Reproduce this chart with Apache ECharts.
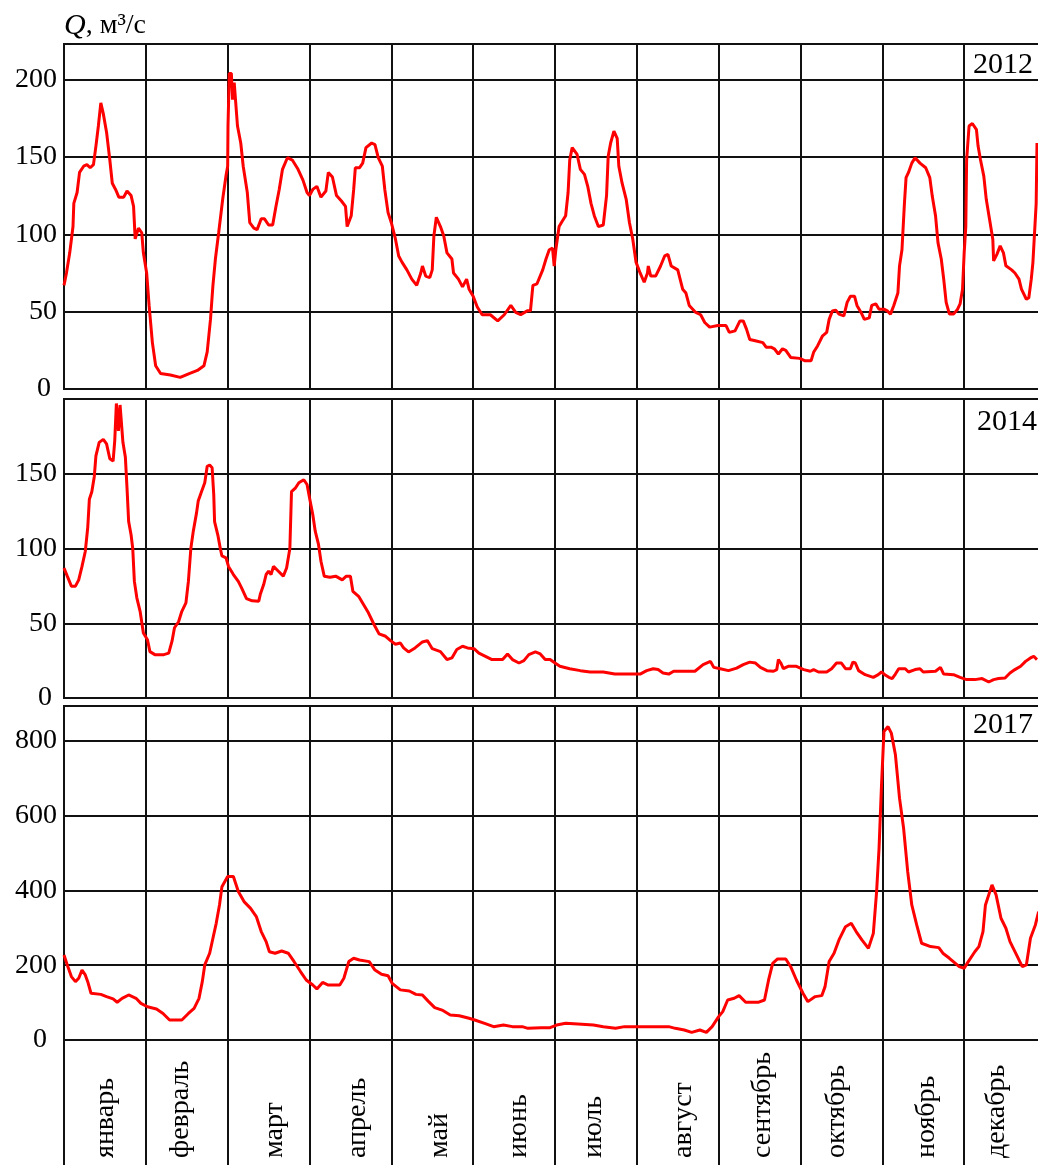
<!DOCTYPE html>
<html>
<head>
<meta charset="utf-8">
<script src="https://cdn.jsdelivr.net/npm/echarts@6/dist/echarts.min.js"></script>
<style>
  html, body { margin: 0; padding: 0; background: #fff; }
  #chart { width: 1038px; height: 1165px; }
</style>
</head>
<body>
<div id="chart"></div>
<script>
// Daily discharge Q (m³/s) over the year; x is the position in months (0 = 1 Jan, 12 = 31 Dec)
const months = ['январь', 'февраль', 'март', 'апрель', 'май', 'июнь',
                'июль', 'август', 'сентябрь', 'октябрь', 'ноябрь', 'декабрь'];
const years = ['2012', '2014', '2017'];

const q2012 = [[0,67],[0.03,75],[0.07,88],[0.11,105],[0.12,120],[0.16,127],[0.19,140],[0.24,144],[0.28,145],[0.32,143],[0.36,145],[0.39,157],[0.42,170],[0.45,185],[0.48,178],[0.52,166],[0.56,148],[0.59,133],[0.63,129],[0.67,124],[0.73,124],[0.77,128],[0.82,125],[0.85,118],[0.87,97],[0.91,104],[0.95,101],[0.97,88],[1.01,75],[1.04,54],[1.08,30],[1.12,15],[1.18,10],[1.30,9],[1.42,7.5],[1.53,10],[1.63,12],[1.71,15],[1.75,24],[1.79,45],[1.82,67],[1.85,84],[1.89,101],[1.94,123],[1.98,138],[2.0,144],[2.004,170],[2.02,204],[2.045,204],[2.06,187],[2.08,198],[2.12,170],[2.16,159],[2.19,144],[2.24,127],[2.27,107.5],[2.32,104],[2.36,103],[2.41,110],[2.45,110],[2.50,106],[2.55,106],[2.59,118],[2.63,129],[2.67,142],[2.73,149.5],[2.79,148],[2.86,142],[2.92,135],[2.97,127],[3.0,125],[3.04,129],[3.09,131],[3.14,124],[3.20,128],[3.23,140],[3.28,137],[3.33,125],[3.39,121.5],[3.44,118],[3.46,105],[3.51,112],[3.54,129],[3.56,143],[3.61,143],[3.65,146],[3.69,156],[3.76,159],[3.80,158],[3.84,149.5],[3.89,144],[3.92,129],[3.96,114],[4.0,107.5],[4.05,97],[4.09,86],[4.13,82],[4.19,77],[4.25,71],[4.31,67],[4.36,75],[4.38,79.5],[4.42,73],[4.47,72],[4.50,77],[4.52,99],[4.55,111],[4.60,105],[4.64,99],[4.68,88],[4.74,84],[4.76,75],[4.82,71],[4.87,66],[4.92,71],[4.95,64.5],[5.0,60],[5.05,53],[5.11,48],[5.21,48],[5.30,44],[5.38,48],[5.46,54],[5.52,49.5],[5.58,48],[5.66,50.5],[5.70,50.5],[5.73,67],[5.78,68],[5.85,77],[5.89,84],[5.93,90],[5.97,91],[5.99,79.5],[6.01,90],[6.05,105],[6.09,108.6],[6.13,112],[6.16,127],[6.18,148],[6.21,156],[6.27,151.6],[6.31,142],[6.36,138.7],[6.40,131],[6.44,120],[6.48,112],[6.53,105],[6.59,106],[6.63,125],[6.65,150.5],[6.68,159],[6.72,166.7],[6.76,162],[6.78,144],[6.82,133],[6.87,122.6],[6.91,107.5],[6.95,97],[6.99,82],[7.04,75],[7.09,69],[7.13,75],[7.14,79.5],[7.17,73],[7.23,73],[7.29,79.5],[7.34,86],[7.38,87],[7.42,79.5],[7.50,77],[7.56,64.5],[7.60,62],[7.64,54],[7.72,49.5],[7.78,48],[7.83,43],[7.89,40],[7.99,41],[8.09,41],[8.13,36.6],[8.20,37.6],[8.26,44],[8.30,44],[8.34,38.7],[8.38,32],[8.46,31],[8.54,30],[8.58,27],[8.64,27],[8.68,26],[8.73,22.6],[8.78,26],[8.82,25],[8.88,20.4],[8.99,19.8],[9.05,18.3],[9.13,18.3],[9.16,23.7],[9.21,28],[9.27,34.4],[9.32,36.6],[9.35,45],[9.39,50.5],[9.43,51],[9.47,48.4],[9.53,47.3],[9.57,56],[9.61,60],[9.66,60],[9.69,54],[9.74,49.5],[9.78,45],[9.84,46],[9.87,54],[9.92,55],[9.96,51.6],[10.02,51.6],[10.06,50.5],[10.10,48.4],[10.14,54],[10.19,62],[10.21,79.6],[10.24,90],[10.27,120],[10.29,136.6],[10.32,140],[10.36,146],[10.40,149.5],[10.46,146],[10.53,143],[10.58,136.6],[10.61,124.7],[10.65,112],[10.68,94.6],[10.72,84],[10.75,71],[10.78,56],[10.82,48.4],[10.87,48.4],[10.92,51.6],[10.95,55],[10.98,64.5],[11.0,88],[11.02,105],[11.03,148],[11.06,170],[11.10,171.6],[11.15,167.7],[11.17,157],[11.20,148],[11.24,137.6],[11.27,122.6],[11.31,109.7],[11.35,96.8],[11.36,82.8],[11.40,87],[11.44,92.5],[11.48,88],[11.51,79.6],[11.58,77],[11.62,75],[11.67,71],[11.70,64.5],[11.76,58],[11.79,59],[11.82,71],[11.84,81.7],[11.88,120],[11.89,159]];

const q2014 = [[0,87],[0.04,81.5],[0.09,74.8],[0.14,74.8],[0.18,79],[0.22,88],[0.26,98],[0.29,114],[0.31,133],[0.34,138],[0.37,148],[0.39,162],[0.43,171],[0.48,173],[0.52,170],[0.56,160],[0.60,158.5],[0.62,172],[0.64,197],[0.665,178.6],[0.685,196],[0.72,171],[0.75,161],[0.77,140.6],[0.79,118],[0.82,109],[0.84,100],[0.86,78],[0.89,67],[0.93,58],[0.97,43.5],[1.02,39],[1.05,31],[1.11,29],[1.22,29],[1.28,30],[1.32,38],[1.35,47],[1.40,51],[1.44,58],[1.49,63.6],[1.52,78],[1.55,100],[1.58,111.6],[1.62,124],[1.64,131.7],[1.68,138],[1.72,144],[1.75,155],[1.78,155.8],[1.81,154],[1.83,136],[1.84,118],[1.88,109],[1.91,100],[1.93,95],[1.98,93.8],[2.01,88],[2.07,82.6],[2.13,78],[2.17,73.7],[2.23,66.5],[2.30,65],[2.38,64.7],[2.40,69.6],[2.44,75.9],[2.47,82.6],[2.50,84.8],[2.53,82.6],[2.56,88],[2.62,84.8],[2.68,81.5],[2.72,87],[2.76,100],[2.78,138],[2.83,140.6],[2.87,144],[2.93,146],[2.97,142.8],[3.0,134],[3.04,122.8],[3.07,111.6],[3.11,102.7],[3.14,91.5],[3.18,81.5],[3.25,80.8],[3.32,81.5],[3.40,79],[3.45,81.5],[3.50,81.5],[3.53,71.4],[3.60,68],[3.66,62.5],[3.72,57],[3.79,49],[3.85,42.9],[3.93,41.3],[3.99,38.4],[4.05,36],[4.11,36.8],[4.15,33.5],[4.21,30.8],[4.29,33.5],[4.38,37.5],[4.44,38.4],[4.50,33],[4.60,31],[4.68,25.7],[4.74,26.8],[4.80,32.4],[4.87,34.6],[4.93,33.5],[5.01,33],[5.07,30],[5.15,27.9],[5.23,25.7],[5.36,25.7],[5.42,29.5],[5.48,25.7],[5.56,23.4],[5.62,25],[5.68,29],[5.76,30.8],[5.82,29.5],[5.88,25.7],[5.94,25.7],[6.0,23.4],[6.06,21.2],[6.18,19.6],[6.31,18.3],[6.43,17.4],[6.59,17.4],[6.73,16],[6.96,16],[7.04,16],[7.12,18.3],[7.20,19.6],[7.26,19],[7.32,16.7],[7.39,16],[7.45,17.9],[7.53,17.9],[7.71,17.9],[7.81,22.3],[7.90,24.5],[7.94,20.5],[8.02,19.6],[8.12,18.3],[8.22,20],[8.30,22.3],[8.38,24],[8.45,23.4],[8.51,20.5],[8.59,18.3],[8.67,17.9],[8.71,19],[8.73,25.7],[8.76,23.4],[8.79,19.6],[8.85,21.2],[8.95,21.2],[9.04,19],[9.12,17.9],[9.16,19],[9.22,17.4],[9.32,17.4],[9.38,19.6],[9.44,23.4],[9.50,23.4],[9.55,19.6],[9.61,19.6],[9.64,24],[9.67,23.4],[9.71,18.3],[9.79,15.6],[9.89,13.8],[9.95,15.6],[9.99,17.4],[10.03,15.6],[10.08,13.8],[10.12,13],[10.16,16],[10.20,19.6],[10.28,19.6],[10.32,17.4],[10.40,19],[10.46,19.6],[10.50,17.4],[10.65,17.9],[10.71,20.5],[10.75,16],[10.87,15.6],[10.95,13.8],[11.03,12.3],[11.13,12.3],[11.22,13],[11.30,10.7],[11.36,12.3],[11.42,13],[11.50,13.4],[11.56,16.7],[11.62,19],[11.69,21.2],[11.75,24.5],[11.81,26.8],[11.85,27.9],[11.89,25.7]];

const q2017 = [[0,227],[0.04,200.7],[0.09,169.5],[0.14,156],[0.18,165],[0.22,187],[0.26,174],[0.29,156],[0.33,125],[0.45,122],[0.52,116],[0.60,110],[0.65,101],[0.71,111.5],[0.79,120.4],[0.88,111.5],[0.94,98],[1.02,89],[1.13,83],[1.21,71],[1.29,53.5],[1.44,53.5],[1.52,71],[1.59,84.7],[1.65,111.5],[1.69,156],[1.72,200.7],[1.78,232],[1.82,272],[1.86,312],[1.90,361],[1.93,410],[2.0,437],[2.07,437],[2.13,397],[2.20,370],[2.28,352],[2.35,330],[2.41,290],[2.47,263],[2.51,236],[2.58,232],[2.66,238],[2.74,232],[2.81,210],[2.89,183],[2.96,160.5],[3.04,147],[3.09,136.5],[3.16,154],[3.23,147],[3.37,147],[3.42,165],[3.48,209.6],[3.54,218.5],[3.61,214],[3.73,209.6],[3.80,187],[3.88,175.7],[3.96,172],[4.01,151.6],[4.11,134],[4.22,131],[4.30,122],[4.38,120.4],[4.45,104],[4.53,86.5],[4.62,80],[4.72,67],[4.83,65],[4.95,58],[5.02,53.5],[5.14,44.6],[5.25,35.7],[5.37,40],[5.48,35.7],[5.60,35.7],[5.67,31.2],[5.83,33],[5.94,33],[6.02,40],[6.13,44.6],[6.28,42.8],[6.47,40],[6.59,35.7],[6.74,31.2],[6.85,35.7],[7.01,35.7],[7.20,35.7],[7.39,35.7],[7.47,31.2],[7.58,26.8],[7.67,20.5],[7.77,26.8],[7.85,20.5],[7.92,35.7],[8.0,62.4],[8.05,75.8],[8.11,107],[8.19,111.5],[8.25,118.6],[8.33,101],[8.49,101],[8.56,107],[8.61,160.5],[8.66,205],[8.72,216.7],[8.82,216.7],[8.88,196],[8.95,160.5],[9.03,125],[9.09,102.6],[9.18,116],[9.26,118.6],[9.30,142.7],[9.35,209.6],[9.41,232],[9.47,267.6],[9.55,303],[9.62,312],[9.68,290],[9.75,267.6],[9.83,245],[9.89,285],[9.93,397],[9.96,513],[9.99,682],[10.02,825],[10.07,838],[10.11,820.5],[10.16,762.6],[10.21,646.6],[10.26,566],[10.31,450],[10.36,361],[10.42,307.7],[10.48,258.7],[10.59,249.7],[10.69,247],[10.74,232],[10.82,218.5],[10.94,196],[11.0,191.8],[11.05,209.6],[11.13,236],[11.18,249.7],[11.23,290],[11.26,361],[11.34,414.7],[11.39,388],[11.45,325.5],[11.51,298.8],[11.56,263],[11.64,227.4],[11.71,196],[11.76,200.7],[11.81,272],[11.87,307.7],[11.91,343]];

const series = [q2012, q2014, q2017];
// y-axis extent and step of each panel
const yMax = [223, 200, 893];
const yStep = [50, 50, 200];

const FONT = "'Liberation Serif', 'Times New Roman', serif";
const INK = '#000';
const RULE = { color: '#111', width: 2 };

// sideways nudge (px, + = right) of each month name from the middle of its column
const monthNudge = [1, -6, 6, 7, 7, 5, -2, 6, 3, -5, 3, -8];

// panel boxes (px); the December column runs on past the right edge of the page
const panels = [
  { top: 44, height: 345, zeroPad: 6, yearTop: 50, yearRight: 5 },
  { top: 399, height: 299, zeroPad: 5, yearTop: 407, yearRight: 1 },
  { top: 706, height: 334, zeroPad: 10, yearTop: 710, yearRight: 5 }
];
const LEFT = 64, WIDTH = 982;
const MONTH_PX = WIDTH / 12;

const grid = panels.map(p => ({
  left: LEFT, width: WIDTH, top: p.top, height: p.height,
  outerBoundsMode: 'none',
  show: true, borderColor: '#111', borderWidth: 2, containLabel: false
}));
// strip under the last panel that holds the month names
grid.push({ left: LEFT, width: WIDTH, top: 1040, height: 160, outerBoundsMode: 'none', show: false });

const xAxis = panels.map((p, i) => ({
  type: 'value', gridIndex: i, min: 0, max: 12, interval: 1,
  axisLine: { show: false }, axisTick: { show: false }, axisLabel: { show: false },
  splitLine: { show: true, lineStyle: RULE }
}));
// month names under the last panel, rotated to read upwards
xAxis.push({
  type: 'value', gridIndex: 2, position: 'bottom', min: 0, max: 12,
  axisLine: { show: false }, axisTick: { show: false }, splitLine: { show: false },
  axisLabel: {
    customValues: months.map((m, i) => i + 0.5 + monthNudge[i] / MONTH_PX),
    formatter: v => months[Math.min(11, Math.floor(v))],
    rotate: 90, align: 'left', verticalAlign: 'middle', margin: 118,
    showMinLabel: true, showMaxLabel: true,
    fontFamily: FONT, fontSize: 28, color: INK
  }
});
xAxis.push({
  type: 'value', gridIndex: 3, min: 0, max: 12, interval: 1,
  axisLine: { show: false }, axisTick: { show: false }, axisLabel: { show: false },
  splitLine: { show: true, lineStyle: RULE }
});

const yAxis = panels.map((p, i) => ({
  type: 'value', gridIndex: i, min: 0, max: yMax[i], interval: yStep[i],
  axisLine: { show: false }, axisTick: { show: false },
  splitLine: { show: true, lineStyle: RULE },
  axisLabel: {
    showMaxLabel: false, margin: 7, fontFamily: FONT, fontSize: 28, color: INK,
    formatter: v => (v === 0 ? '{z|0}' : String(v)),
    rich: { z: { fontFamily: FONT, fontSize: 28, color: INK, padding: [0, p.zeroPad, 0, 0] } }
  }
}));
yAxis.push({ type: 'value', gridIndex: 3, min: 0, max: 1, show: false });

const title = [{
  left: 64, top: 11, padding: 0,
  text: '{q|Q}{t|, м³/с}',
  textStyle: {
    fontWeight: 'normal',
    rich: {
      q: { fontFamily: FONT, fontStyle: 'italic', fontWeight: 'normal', fontSize: 30, color: INK },
      t: { fontFamily: FONT, fontWeight: 'normal', fontSize: 28, color: INK }
    }
  }
}].concat(panels.map((p, i) => ({
  text: years[i], right: p.yearRight, top: p.yearTop, padding: 0,
  textStyle: { fontFamily: FONT, fontSize: 30, fontWeight: 'normal', color: INK }
})));

const chart = echarts.init(document.getElementById('chart'), null, { renderer: 'canvas' });
chart.setOption({
  animation: false,
  backgroundColor: '#fff',
  title,
  grid,
  xAxis,
  yAxis,
  series: series.map((d, i) => ({
    type: 'line', xAxisIndex: i, yAxisIndex: i, data: d,
    showSymbol: false, symbol: 'none', smooth: false,
    lineStyle: { color: '#ff0000', width: 3 }, z: 5
  }))
});
</script>
</body>
</html>
